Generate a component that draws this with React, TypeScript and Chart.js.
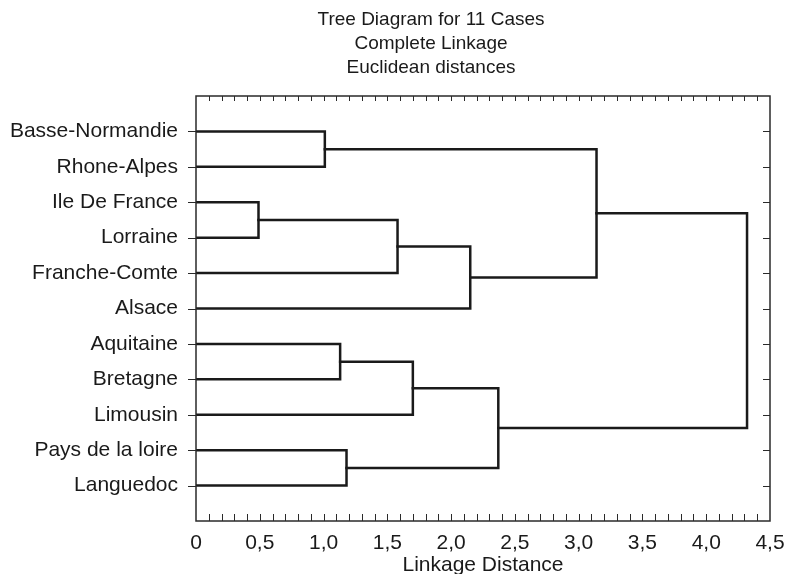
import React, { useEffect, useRef } from 'react';
import { Chart, registerables } from 'chart.js';

Chart.register(...registerables);

const titleLines = ['Tree Diagram for 11 Cases', 'Complete Linkage', 'Euclidean distances'];
const axisTitle = 'Linkage Distance';

const leafLabels = [
  'Basse-Normandie',
  'Rhone-Alpes',
  'Ile De France',
  'Lorraine',
  'Franche-Comte',
  'Alsace',
  'Aquitaine',
  'Bretagne',
  'Limousin',
  'Pays de la loire',
  'Languedoc',
];

// Node ids: 0..10 are leaves, 11+ are clusters created by the merges in order
const mergeLeft = [2, 0, 6, 9, 11, 13, 15, 16, 12, 19];
const mergeRight = [3, 1, 7, 10, 4, 8, 5, 14, 17, 18];
const mergeHeight = [0.49, 1.01, 1.13, 1.18, 1.58, 1.7, 2.15, 2.37, 3.14, 4.32];

const xTickValues = [0, 0.5, 1, 1.5, 2, 2.5, 3, 3.5, 4, 4.5];
const xTickLabels = ['0', '0,5', '1,0', '1,5', '2,0', '2,5', '3,0', '3,5', '4,0', '4,5'];

const FONT = "'Liberation Sans', Arial, sans-serif";
const INK = '#1a1a1a';

function buildSegments() {
  const nodes: { x: number; y: number }[] = leafLabels.map((_, i) => ({ x: 0, y: i }));
  const sets: { x: number; y: number }[][] = [];
  mergeHeight.forEach((h, k) => {
    const a = nodes[mergeLeft[k]];
    const b = nodes[mergeRight[k]];
    sets.push([
      { x: a.x, y: a.y },
      { x: h, y: a.y },
      { x: h, y: b.y },
      { x: b.x, y: b.y },
    ]);
    nodes.push({ x: h, y: (a.y + b.y) / 2 });
  });
  return sets;
}

const framePlugin = {
  id: 'framePlugin',
  afterDraw(chart: any) {
    const ctx = chart.ctx;
    const { left, right, top, bottom } = chart.chartArea;
    const xs = chart.scales.x;
    const ys = chart.scales.y;
    ctx.save();
    // title
    ctx.fillStyle = INK;
    ctx.font = `19px ${FONT}`;
    ctx.textAlign = 'center';
    ctx.textBaseline = 'middle';
    titleLines.forEach((t, i) => ctx.fillText(t, 431, 20 + i * 24));

    // frame
    ctx.strokeStyle = '#2a2a2a';
    ctx.lineWidth = 1.5;
    ctx.strokeRect(left, top, right - left, bottom - top);

    // x minor ticks (top and bottom, inward)
    ctx.lineWidth = 1;
    ctx.beginPath();
    for (let i = 1; i < 45; i++) {
      const px = Math.round(xs.getPixelForValue(i / 10)) + 0.5;
      ctx.moveTo(px, top);
      ctx.lineTo(px, top + 5);
      ctx.moveTo(px, bottom);
      ctx.lineTo(px, bottom - 7);
    }
    // y ticks: left outward, right inward
    leafLabels.forEach((_, i) => {
      const py = Math.round(ys.getPixelForValue(i)) + 0.5;
      ctx.moveTo(left - 8, py);
      ctx.lineTo(left, py);
      ctx.moveTo(right, py);
      ctx.lineTo(right - 7, py);
    });
    ctx.stroke();
    ctx.restore();
  },
};

export default function App() {
  const ref = useRef<HTMLCanvasElement>(null);
  useEffect(() => {
    if (!ref.current) return;
    const segs = buildSegments();
    const chart = new Chart(ref.current, {
      type: 'scatter',
      data: {
        datasets: segs.map((d) => ({
          data: d,
          showLine: true,
          borderColor: INK,
          borderWidth: 2.5,
          pointRadius: 0,
          borderCapStyle: 'square',
          borderJoinStyle: 'miter',
          fill: false,
        })),
      },
      options: {
        animation: false,
        responsive: true,
        maintainAspectRatio: false,
        layout: { padding: { left: 0, right: 17, top: 96, bottom: 0 } },
        plugins: { legend: { display: false }, tooltip: { enabled: false }, title: { display: false } },
        scales: {
          x: {
            type: 'linear',
            min: 0,
            max: 4.5,
            grid: { display: false, drawTicks: false },
            border: { display: false },
            afterBuildTicks: (s: any) => {
              s.ticks = xTickValues.map((v) => ({ value: v }));
            },
            afterFit: (s: any) => {
              s.height = 53;
              s.paddingLeft = 0;
              s.paddingRight = 0;
            },
            ticks: {
              autoSkip: false,
              maxRotation: 0,
              padding: 10,
              color: INK,
              font: { family: FONT, size: 21 },
              callback: (v: any) => {
                const i = xTickValues.indexOf(Number(v));
                return i >= 0 ? xTickLabels[i] : '';
              },
            },
            title: {
              display: true,
              text: axisTitle,
              color: INK,
              font: { family: FONT, size: 21, lineHeight: 0.85 },
              padding: { top: 0, bottom: 0 },
            },
          },
          y: {
            type: 'linear',
            min: -1,
            max: 11,
            reverse: true,
            grid: { display: false, drawTicks: false },
            border: { display: false },
            afterBuildTicks: (s: any) => {
              s.ticks = leafLabels.map((_, i) => ({ value: i }));
            },
            afterFit: (s: any) => {
              s.width = 196;
              s.paddingTop = 0;
              s.paddingBottom = 0;
            },
            ticks: {
              autoSkip: false,
              padding: 18,
              color: INK,
              font: { family: FONT, size: 21 },
              callback: (v: any) => leafLabels[Number(v)] ?? '',
            },
          },
        },
      },
      plugins: [framePlugin],
    } as any);
    return () => chart.destroy();
  }, []);
  return (
    <div style={{ position: 'absolute', left: 0, top: 0, width: 787, height: 574, background: '#fff' }}>
      <canvas ref={ref} />
    </div>
  );
}
